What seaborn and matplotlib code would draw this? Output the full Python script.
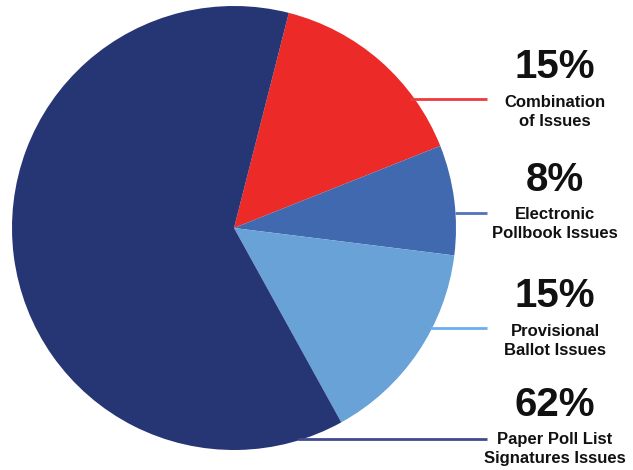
import matplotlib
matplotlib.use("Agg")
import matplotlib.pyplot as plt
import seaborn as sns

# Share of reported issues by type
categories = ["Combination\nof Issues", "Electronic\nPollbook Issues",
              "Provisional\nBallot Issues", "Paper Poll List\nSignatures Issues"]
shares = [15, 8, 15, 62]
pct_labels = ["15%", "8%", "15%", "62%"]

slice_colors = ["#EC2A27", "#4169B0", "#68A2D6", "#263574"]
line_colors = ["#EE3A3A", "#5272BA", "#6AAEEE", "#3E4C8C"]

sns.set_theme(style="white")
plt.rcParams["font.family"] = ["Liberation Sans", "DejaVu Sans"]

W, H = 633, 470
fig = plt.figure(figsize=(W / 100, H / 100), dpi=100)
ax = fig.add_axes([0, 0, 1, 1])

cx, cy, r = 234, H - 228, 222
ax.pie(shares, colors=slice_colors, startangle=75.7, counterclock=False,
       center=(cx, cy), radius=r, wedgeprops=dict(linewidth=0))
ax.set_xlim(0, W)
ax.set_ylim(0, H)
ax.set_aspect("equal")
ax.axis("off")

# Leader lines and labels (pixel positions, y measured from top)
line_y = [99, 213, 328, 439]
line_x0 = [410, 455, 430, 298]
pct_y = [67, 180, 296, 405]
text_y = [112, 224, 341, 449]
text_x = 555
for i in range(len(shares)):
    ax.plot([line_x0[i], 487], [H - line_y[i]] * 2, color=line_colors[i],
            lw=2, solid_capstyle="butt")
    ax.text(text_x, H - pct_y[i], pct_labels[i], ha="center", va="center",
            fontsize=29, fontweight="bold", color="#111111")
    ax.text(text_x, H - text_y[i], categories[i], ha="center", va="center",
            fontsize=12, fontweight="bold", color="#111111", linespacing=1.3)

fig.savefig("out.png", dpi=100, facecolor="white")
